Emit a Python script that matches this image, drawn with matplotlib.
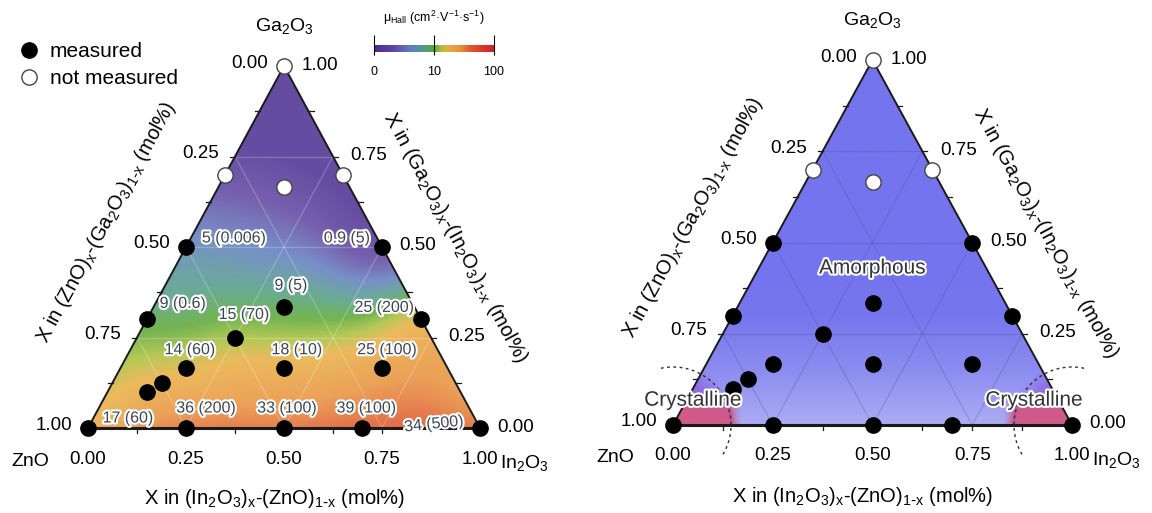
import numpy as np
import matplotlib
matplotlib.use("Agg")
import matplotlib.pyplot as plt
import matplotlib.patheffects as pe
from matplotlib.colors import LinearSegmentedColormap, LogNorm, Normalize, to_rgb
from matplotlib.lines import Line2D
from matplotlib.patches import Polygon

plt.rcParams.update({
    "font.family": ["Liberation Sans", "DejaVu Sans"],
    "mathtext.default": "regular",
})

# measured compositions: mole fraction of In2O3 and Ga2O3 (ZnO is the rest)
meas_in2o3 = [0, 0.25, 0.5, 0.7, 1.0, 0.1, 0.125, 1/6, 5/12, 2/3, 0.25, 0, 0.7, 1/3, 0, 0.5]
meas_ga2o3 = [0, 0, 0, 0, 0, 0.1, 0.125, 1/6, 1/6, 1/6, 0.25, 0.3, 0.3, 1/3, 0.5, 0.5]
# Hall mobility and the bracketed value for each measured film (None = no label)
mobility = [17, 36, 33, 39, 34, None, None, 14, 18, 25, 15, 9, 25, 9, 5, 0.9]
bracket = [60, 200, 100, 100, 500, None, None, 60, 10, 100, 70, 0.6, 200, 5, 0.006, 5]

# compositions that were not measured
open_in2o3 = [0, 0, 0.3, 1/6]
open_ga2o3 = [1.0, 0.7, 0.7, 2/3]

axis_ticks = [0.0, 0.25, 0.5, 0.75, 1.0]
cbar_ticks = [1, 10, 100]
cbar_labels = ["0", "10", "100"]

# label offsets in pixels from each point
label_offsets = [(40, 10), (20, 20), (3, 20), (4, 20), (-46, 4), None, None,
                 (4, 18), (13, 18), (5, 18), (9, 23), (36, 16), (-37, 12),
                 (7, 22), (48, 9), (-35, 9)]

FIG_W, FIG_H = 1152, 513
fig = plt.figure(figsize=(FIG_W / 100, FIG_H / 100), dpi=100)

mu_cmap = LinearSegmentedColormap.from_list("mu", [
    (0.00, "#4a2c90"), (0.15, "#5e43a0"), (0.30, "#5f7cc0"),
    (0.42, "#4f9c84"), (0.50, "#5aa732"), (0.56, "#a8bf38"),
    (0.61, "#e8ae40"), (0.72, "#e8903a"), (0.80, "#e05a2c"),
    (0.90, "#d83a28"), (1.00, "#d41e28")])

halo = [pe.withStroke(linewidth=3, foreground="white")]


def tern(a, g):
    a = np.asarray(a, float)
    g = np.asarray(g, float)
    return a + g / 2, g


def triangle_frame(ax, sx, sy, grid_color, grid_alpha):
    ax.set_xlim(0, 1)
    ax.set_ylim(0, 1)
    ax.axis("off")
    tri = Polygon([(0, 0), (1, 0), (0.5, 1)], closed=True, fill=False,
                  ec="#1a1a1a", lw=1.4, zorder=4, clip_on=False)
    ax.add_patch(tri)
    ax.plot([0, 1], [0, 0], color="#1a1a1a", lw=2.2, zorder=4, clip_on=False)

    # grid at quarter steps
    for t in axis_ticks[1:-1]:
        for (a0, g0), (a1, g1) in [((0, t), (1 - t, t)),
                                   ((t, 0), (t, 1 - t)),
                                   ((1 - t, 0), (0, 1 - t))]:
            x, y = tern([a0, a1], [g0, g1])
            ax.plot(x, y, color=grid_color, lw=0.9, alpha=grid_alpha, zorder=2)

    # small ticks every 1/8
    tl = 5
    for t in np.arange(0, 1.001, 0.125):
        ax.plot([t, t], [0, -tl / sy], color="#1a1a1a", lw=0.9, clip_on=False, zorder=4)
        x, y = tern(0, t)
        ax.plot([x, x - tl / sx], [y, y], color="#1a1a1a", lw=0.9, clip_on=False, zorder=4)
        x, y = tern(1 - t, t)
        ax.plot([x, x + tl / sx], [y, y], color="#1a1a1a", lw=0.9, clip_on=False, zorder=4)

    # tick labels
    for t in axis_ticks:
        ax.annotate(f"{t:.2f}", tern(t, 0), xytext=(0, -31), textcoords="offset pixels",
                    ha="center", va="center", fontsize=13.5)
        ax.annotate(f"{1 - t:.2f}", tern(0, t), xytext=(-34, 3), textcoords="offset pixels",
                    ha="center", va="center", fontsize=13.5)
        ax.annotate(f"{t:.2f}", tern(1 - t, t), xytext=(36, 1), textcoords="offset pixels",
                    ha="center", va="center", fontsize=13.5)

    # vertex names
    ax.annotate("Ga$_2$O$_3$", (0.5, 1), xytext=(0, 40), textcoords="offset pixels",
                ha="center", va="center", fontsize=14)
    ax.annotate("ZnO", (0, 0), xytext=(-58, -33), textcoords="offset pixels",
                ha="center", va="center", fontsize=14)
    ax.annotate("In$_2$O$_3$", (1, 0), xytext=(44, -35), textcoords="offset pixels",
                ha="center", va="center", fontsize=14)

    # axis titles
    ang = np.degrees(np.arctan2(sy, sx / 2))
    sub = r"$_{1\text{-}x}$"
    ax.annotate("X in (In$_2$O$_3$)$_x$-(ZnO)" + sub + " (mol%)", (0.5, 0), xytext=(-10, -71),
                textcoords="offset pixels", ha="center", va="center", fontsize=14.5)
    ax.annotate("X in (ZnO)$_x$-(Ga$_2$O$_3$)" + sub + " (mol%)", tern(0, 0.5), xytext=(-80, 25),
                textcoords="offset pixels", ha="center", va="center", fontsize=14.5,
                rotation=ang, rotation_mode="anchor")
    ax.annotate("X in (Ga$_2$O$_3$)$_x$-(In$_2$O$_3$)" + sub + " (mol%)", tern(0.5, 0.5),
                xytext=(73, 10), textcoords="offset pixels", ha="center", va="center",
                fontsize=14.5, rotation=-ang, rotation_mode="anchor")

    return tri


def draw_points(ax):
    x, y = tern(meas_in2o3, meas_ga2o3)
    ax.plot(x, y, "o", color="black", ms=11, zorder=6, clip_on=False)
    x, y = tern(open_in2o3, open_ga2o3)
    ax.plot(x, y, "o", mfc="white", mec="#444444", mew=1.0, ms=11, zorder=6, clip_on=False)


# ---------------- left: Hall mobility map ----------------
sxL, syL = 392, 362
axL = fig.add_axes([88 / FIG_W, 85 / FIG_H, sxL / FIG_W, syL / FIG_H])
triL = triangle_frame(axL, sxL, syL, "white", 0.22)

# smooth log-mobility field: plane trend plus broad inverse-distance residuals
have = [i for i, m in enumerate(mobility) if m is not None]
pa = np.array([meas_in2o3[i] for i in have])
pg = np.array([meas_ga2o3[i] for i in have])
pv = np.log10([mobility[i] for i in have])
A = np.column_stack([np.ones_like(pa), pa, pg])
coef, *_ = np.linalg.lstsq(A, pv, rcond=None)
resid = pv - A @ coef

N = 400
X, Y = np.meshgrid(np.linspace(0, 1, N), np.linspace(0, 1, N))
GA = Y
INA = X - Y / 2
px, py = tern(pa, pg)
d2 = ((X[..., None] - px) * sxL) ** 2 + ((Y[..., None] - py) * syL) ** 2
w = 1.0 / (d2 + 50.0 ** 2) ** 1.5
field = coef[0] + coef[1] * INA + coef[2] * GA + (w * resid).sum(-1) / w.sum(-1)
field = np.clip(field, 0, 2)

im = axL.imshow(field, extent=(0, 1, 0, 1), origin="lower", cmap=mu_cmap,
                norm=Normalize(0, 2), alpha=0.85, zorder=1, aspect="auto",
                interpolation="bilinear")
im.set_clip_path(Polygon([(0, 0), (1, 0), (0.5, 1)], transform=axL.transData))

draw_points(axL)

for i, (m, b, off) in enumerate(zip(mobility, bracket, label_offsets)):
    if m is None:
        continue
    axL.annotate(f"{m:g} ({b:g})", tern(meas_in2o3[i], meas_ga2o3[i]), xytext=off,
                 textcoords="offset pixels", ha="center", va="center", fontsize=11.5,
                 color="#3b4652", path_effects=halo, zorder=7,
                 rotation=6 if i == 4 else 0)

# legend
handles = [Line2D([], [], marker="o", ls="", color="black", ms=11),
           Line2D([], [], marker="o", ls="", mfc="white", mec="#444444", mew=1.0, ms=11)]
fig.legend(handles, ["measured", "not measured"], loc="upper left",
           bbox_to_anchor=(0.0, 0.955), frameon=False, fontsize=15,
           handlelength=1.0, handletextpad=0.5, labelspacing=0.4, borderpad=0.4)

# colour bar
cax = fig.add_axes([374 / FIG_W, 1 - 52 / FIG_H, 120 / FIG_W, 7 / FIG_H])
sm = plt.cm.ScalarMappable(norm=LogNorm(1, 100), cmap=mu_cmap)
cb = fig.colorbar(sm, cax=cax, orientation="horizontal", ticks=cbar_ticks)
cb.outline.set_visible(False)
cax.minorticks_off()
cax.set_xticks(cbar_ticks)
cax.set_xticklabels(cbar_labels)
cax.tick_params(bottom=False, top=True, labelbottom=True, labeltop=False,
                direction="inout", length=14, width=0.8, labelsize=9, pad=3)
fig.text(434 / FIG_W, 1 - 18 / FIG_H,
         "μ$_{Hall}$ (cm$^2$·V$^{-1}$·s$^{-1}$)", ha="center", va="center", fontsize=9)

# ---------------- right: amorphous / crystalline map ----------------
sxR, syR = 399, 365
axR = fig.add_axes([673 / FIG_W, 88 / FIG_H, sxR / FIG_W, syR / FIG_H])
triR = triangle_frame(axR, sxR, syR, "#50509a", 0.28)

shade = LinearSegmentedColormap.from_list("amor", ["#acacf4", "#8c8cf0", "#7676ee", "#7474ee"])
bg = axR.imshow(np.clip(Y / 0.45, 0, 1), extent=(0, 1, 0, 1), origin="lower", cmap=shade,
                aspect="auto", zorder=1)
bg.set_clip_path(Polygon([(0, 0), (1, 0), (0.5, 1)], transform=axR.transData))

# crystalline corners
pink = np.array(to_rgb("#d4527e"))
violet = np.array(to_rgb("#8c3ad6"))
glow = np.zeros((N, N, 4))
for cx in (0.0, 1.0):
    d = np.hypot((X - cx) * sxR, Y * syR)
    a_v = np.clip((62 - d) / 18, 0, 1) * 0.55
    a_p = np.clip((68 - d) / 12, 0, 1) * np.clip((24 - Y * syR) / 5, 0, 1)
    glow[..., :3] += (violet * a_v[..., None] * (1 - a_p[..., None]) + pink * a_p[..., None])
    glow[..., 3] += np.clip(a_v + a_p, 0, 1)
alpha = np.clip(glow[..., 3], 1e-6, 1)
rgb = glow[..., :3] / np.maximum(alpha[..., None], 1e-6)
glow = np.dstack([np.clip(rgb, 0, 1), glow[..., 3] * 0.9])
cr = axR.imshow(glow, extent=(0, 1, 0, 1), origin="lower", aspect="auto", zorder=1.5,
                interpolation="bilinear")
cr.set_clip_path(Polygon([(0, 0), (1, 0), (0.5, 1)], transform=axR.transData))

# dotted phase boundaries around the two corners
r = 58
for cx, t0, t1 in [(0.0, 102, -32), (1.0, 78, 212)]:
    th = np.radians(np.linspace(t0, t1, 80))
    axR.plot(cx + r * np.cos(th) / sxR, r * np.sin(th) / syR, ls=(0, (2, 2.5)),
             color="#2a2a3a", lw=1.0, zorder=3, clip_on=False)

draw_points(axR)

axR.text(0.5, 0.43, "Amorphous", ha="center", va="center", fontsize=15,
         color="#333333", path_effects=halo, zorder=7)
axR.text(0.05, 0.068, "Crystalline", ha="center", va="center", fontsize=15,
         color="#333333", path_effects=halo, zorder=7)
axR.text(0.905, 0.068, "Crystalline", ha="center", va="center", fontsize=15,
         color="#333333", path_effects=halo, zorder=7)

fig.savefig("out.png", dpi=100)
